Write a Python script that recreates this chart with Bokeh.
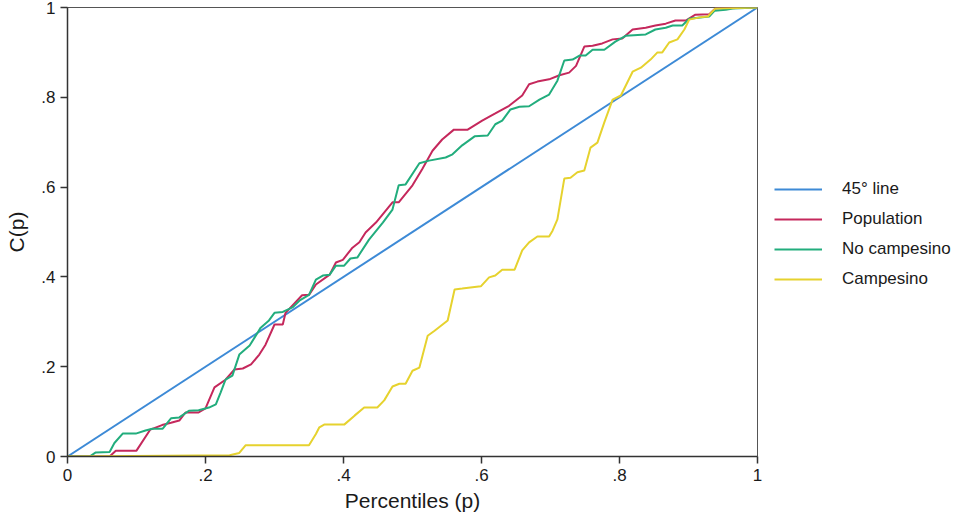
from bokeh.plotting import figure
from bokeh.models import Range1d, FixedTicker, Legend, LegendItem
from bokeh.embed import file_html
from bokeh.resources import INLINE

# ---- data ----
diag_p = [0.0, 1.0]
diag_c = [0.0, 1.0]

pop_p = [0, 0.061, 0.07, 0.10, 0.12, 0.137, 0.15, 0.162, 0.171, 0.19, 0.2, 0.213, 0.229, 0.242, 0.254, 0.266,
         0.278, 0.287, 0.30, 0.312, 0.316, 0.34, 0.35, 0.36, 0.38, 0.389, 0.399, 0.413, 0.423, 0.432, 0.447,
         0.471, 0.48, 0.5, 0.514, 0.529, 0.543, 0.56, 0.58, 0.601, 0.62, 0.64, 0.659, 0.669, 0.681, 0.698,
         0.713, 0.727, 0.737, 0.749, 0.761, 0.775, 0.79, 0.804, 0.819, 0.838, 0.852, 0.867, 0.881, 0.896,
         0.91, 0.93, 0.939, 1.0]
pop_c = [0, 0, 0.013, 0.013, 0.06, 0.07, 0.075, 0.08, 0.098, 0.098, 0.107, 0.154, 0.171, 0.194, 0.196, 0.205,
         0.227, 0.249, 0.294, 0.294, 0.32, 0.359, 0.36, 0.383, 0.405, 0.432, 0.438, 0.465, 0.477, 0.499, 0.521,
         0.566, 0.566, 0.604, 0.64, 0.681, 0.706, 0.728, 0.728, 0.748, 0.764, 0.781, 0.804, 0.829, 0.835, 0.84,
         0.849, 0.855, 0.87, 0.913, 0.915, 0.92, 0.929, 0.931, 0.951, 0.955, 0.96, 0.964, 0.971, 0.971,
         0.984, 0.985, 0.998, 1.0]

nc_p = [0, 0.032, 0.041, 0.061, 0.068, 0.08, 0.099, 0.113, 0.123, 0.138, 0.15, 0.162, 0.176, 0.19, 0.205,
        0.215, 0.222, 0.229, 0.239, 0.249, 0.264, 0.28, 0.292, 0.30, 0.312, 0.326, 0.336, 0.35, 0.36, 0.37,
        0.38, 0.389, 0.401, 0.41, 0.42, 0.437, 0.457, 0.471, 0.48, 0.49, 0.51, 0.524, 0.548, 0.558, 0.572,
        0.59, 0.609, 0.62, 0.63, 0.642, 0.655, 0.669, 0.684, 0.698, 0.71, 0.72, 0.732, 0.742, 0.751, 0.761,
        0.778, 0.794, 0.809, 0.838, 0.852, 0.867, 0.877, 0.891, 0.901, 0.93, 0.938, 0.954, 0.964, 1.0]
nc_c = [0, 0, 0.009, 0.01, 0.03, 0.051, 0.051, 0.058, 0.062, 0.062, 0.085, 0.087, 0.102, 0.103, 0.109,
        0.116, 0.143, 0.171, 0.18, 0.227, 0.247, 0.287, 0.303, 0.32, 0.322, 0.332, 0.347, 0.36, 0.394, 0.403,
        0.405, 0.425, 0.425, 0.441, 0.443, 0.483, 0.521, 0.55, 0.604, 0.606, 0.653, 0.659, 0.666, 0.673, 0.693,
        0.713, 0.715, 0.74, 0.748, 0.773, 0.779, 0.78, 0.795, 0.806, 0.837, 0.882, 0.884, 0.893, 0.893, 0.906,
        0.906, 0.924, 0.937, 0.94, 0.951, 0.955, 0.96, 0.96, 0.975, 0.98, 0.993, 0.995, 0.998, 1.0]

camp_p = [0, 0.235, 0.249, 0.258, 0.35, 0.36, 0.365, 0.372, 0.401, 0.416, 0.43, 0.449, 0.459, 0.471, 0.481,
          0.49, 0.5, 0.51, 0.522, 0.532, 0.551, 0.561, 0.572, 0.599, 0.611, 0.62, 0.63, 0.648, 0.659, 0.669,
          0.681, 0.698, 0.703, 0.71, 0.72, 0.729, 0.739, 0.749, 0.758, 0.768, 0.778, 0.79, 0.802, 0.819, 0.831,
          0.845, 0.855, 0.862, 0.872, 0.884, 0.894, 0.901, 0.916, 0.928, 0.939, 1.0]
camp_c = [0, 0.003, 0.008, 0.025, 0.025, 0.05, 0.065, 0.071, 0.071, 0.091, 0.109, 0.109, 0.125, 0.156, 0.162,
          0.162, 0.191, 0.198, 0.269, 0.28, 0.303, 0.372, 0.374, 0.379, 0.399, 0.403, 0.416, 0.416, 0.459, 0.477,
          0.49, 0.49, 0.503, 0.528, 0.619, 0.621, 0.633, 0.637, 0.688, 0.699, 0.744, 0.795, 0.804, 0.857, 0.866,
          0.884, 0.9, 0.9, 0.922, 0.929, 0.951, 0.973, 0.978, 0.98, 0.998, 1.0]

series_names = ["45\u00b0 line", "Population", "No campesino", "Campesino"]
tick_values = [0, 0.2, 0.4, 0.6, 0.8, 1.0]
tick_labels = ["0", ".2", ".4", ".6", ".8", "1"]

# ---- figure ----
FONT = "Liberation Sans"
TXT = "#1a1a1a"

p = figure(frame_width=690, frame_height=449, output_backend="svg", toolbar_location=None,
           x_range=Range1d(0, 1), y_range=Range1d(0, 1),
           min_border_left=67, min_border_top=7, min_border_right=188, min_border_bottom=54)
p.grid.visible = False
p.outline_line_color = "#555555"
p.outline_line_width = 1
p.background_fill_color = "white"
p.border_fill_color = "white"

for ax in (p.xaxis[0], p.yaxis[0]):
    ax.ticker = FixedTicker(ticks=tick_values)
    ax.major_label_overrides = {v: l for v, l in zip(tick_values, tick_labels)}
    ax.minor_tick_line_color = None
    ax.major_tick_in = 0
    ax.major_tick_out = 7
    ax.axis_line_color = "#333333"
    ax.axis_line_width = 1.5
    ax.major_tick_line_color = "#333333"
    ax.major_tick_line_width = 1.5
    ax.major_label_text_font = FONT
    ax.major_label_text_font_size = "17px"
    ax.major_label_text_color = TXT
    ax.axis_label_text_font = FONT
    ax.axis_label_text_font_size = "21px"
    ax.axis_label_text_font_style = "normal"
    ax.axis_label_text_color = TXT

p.xaxis.axis_label = "Percentiles (p)"
p.yaxis.axis_label = "C(p)"
p.xaxis.major_label_standoff = 5
p.xaxis.axis_label_standoff = 5
p.yaxis.major_label_standoff = 5
p.yaxis.axis_label_standoff = 10
p.yaxis.major_label_orientation = "horizontal"

colors = ["#3d8ad6", "#c5285c", "#22ad7d", "#e6d22e"]
r0 = p.line(diag_p, diag_c, line_color=colors[0], line_width=2)
r1 = p.line(pop_p, pop_c, line_color=colors[1], line_width=2)
r2 = p.line(nc_p, nc_c, line_color=colors[2], line_width=2)
r3 = p.line(camp_p, camp_c, line_color=colors[3], line_width=2)

legend = Legend(items=[LegendItem(label=n, renderers=[r]) for n, r in zip(series_names, [r0, r1, r2, r3])],
                location=(17, 167), orientation="vertical",
                glyph_width=48, glyph_height=20, label_standoff=20, spacing=10,
                padding=0, margin=0, border_line_color=None, background_fill_alpha=0,
                label_text_font=FONT, label_text_font_size="17px", label_text_color=TXT)
p.add_layout(legend, "right")

open("out.html", "w").write(file_html(p, INLINE))
